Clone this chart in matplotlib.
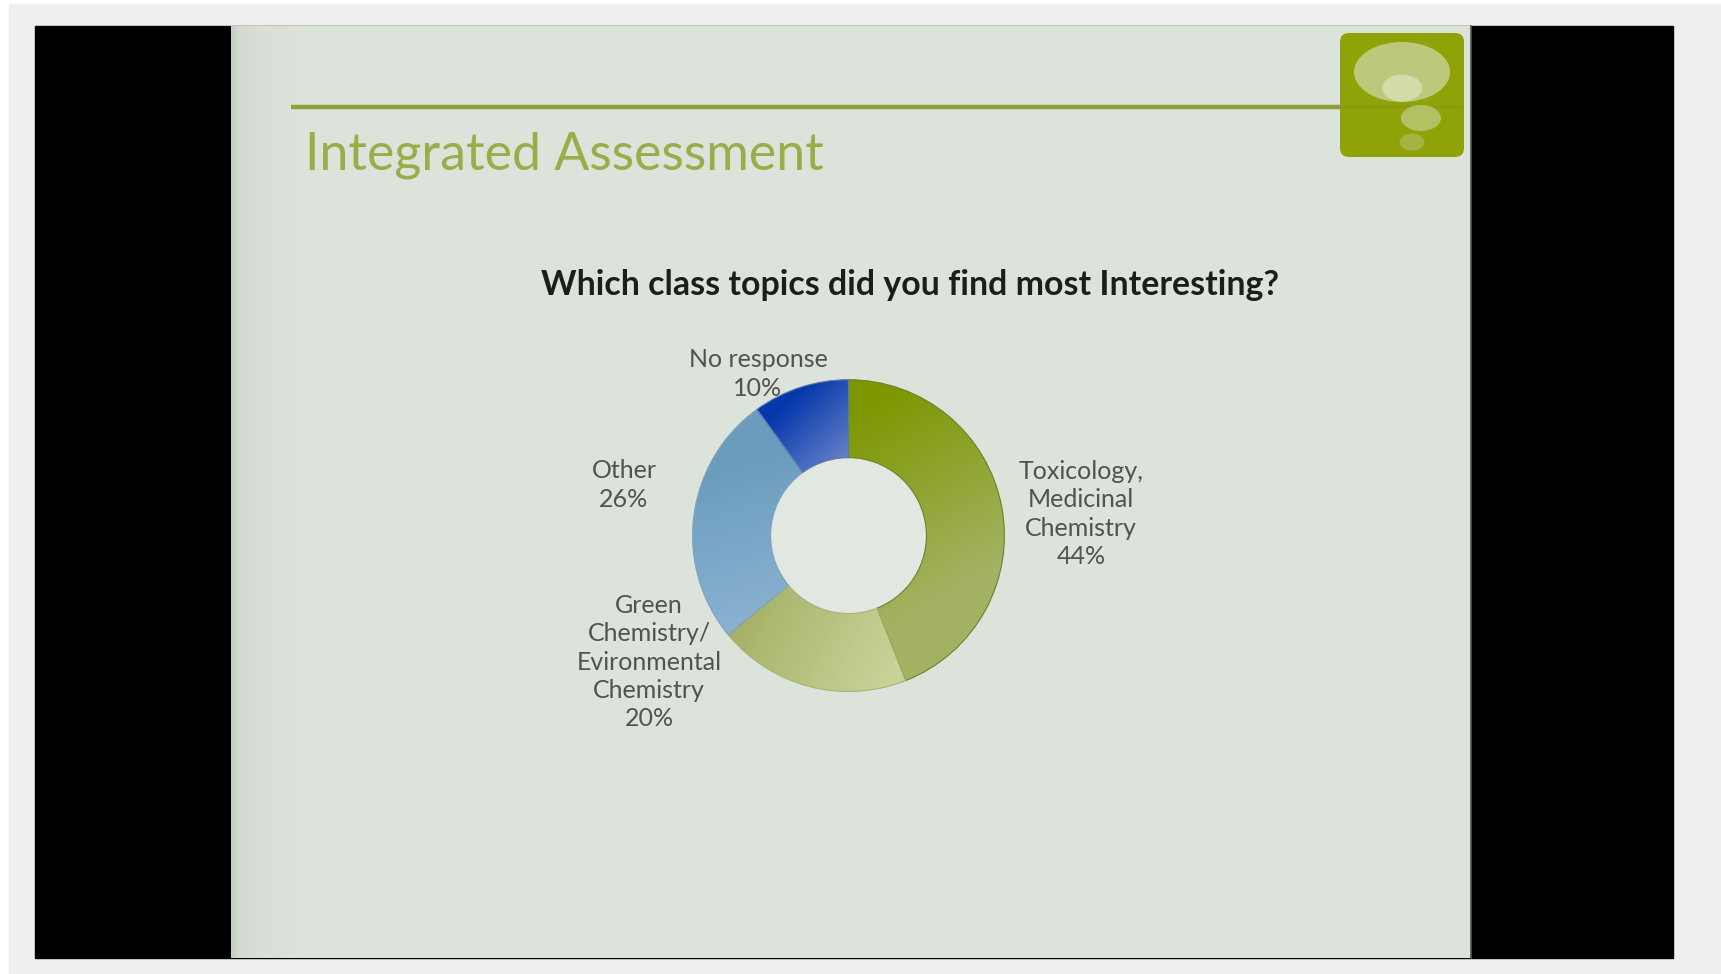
"""Survey slide: donut of the class topics students found most interesting."""

import matplotlib

matplotlib.use("Agg")
import matplotlib.pyplot as plt
import numpy as np
from matplotlib.colors import to_rgb
from matplotlib.patches import Circle, Ellipse, FancyBboxPatch, Rectangle

W, H = 1721, 974

TOPICS = ["Toxicology,\nMedicinal\nChemistry", "Green\nChemistry/\nEvironmental\nChemistry",
          "Other", "No response"]
SHARES = [44, 20, 26, 10]
HEADING = "Integrated Assessment"
QUESTION = "Which class topics did you find most Interesting?"

# label centres in figure pixels, same order as TOPICS
LABEL_XY = [(1081, 514), (649, 662), (624, 485), (758, 374)]

# gradient per wedge: start colour, end colour, start point, end point (pie units)
SHADES = [
    ("#7d9700", "#a3b263", (0.1, 0.85), (0.75, -0.3)),
    ("#a6b166", "#c9d399", (-0.7, -0.5), (0.25, -0.95)),
    ("#6a9cbd", "#8db3d3", (-0.75, 0.5), (-0.45, -0.6)),
    ("#0538ab", "#6c85c8", (-0.4, 0.85), (-0.02, 0.45)),
]
EDGES = ["#6f7f2a", "#a9b370", "#7ba3bb", "#5a74b4"]

CX, CY, R = 848.5, 535.6, 159.0


def slide_background(ax):
    # page margin and the black pillarbox either side of the slide
    ax.add_patch(Rectangle((0, 0), W, H, color="white", zorder=0))
    ax.add_patch(Rectangle((9, 4), W - 9, H - 4, color="#efefef", zorder=0.1))
    ax.add_patch(Rectangle((35, 26), 1638, 932, color="black", zorder=0.2))

    # slide face, a little darker towards its left edge
    xs = np.array([0.0, 8, 30, 50, 70, 1240])
    vals = np.array([0.78, 0.83, 0.85, 0.855, 0.865, 0.865])
    shade = np.interp(np.arange(1240), xs, vals)
    face = np.ones((1, 1240, 3))
    face[..., 0] = shade * 1.0
    face[..., 1] = shade * 1.03
    face[..., 2] = shade * 0.99
    ax.imshow(np.clip(face, 0, 1), extent=(231, 1471, 958, 26), aspect="auto", zorder=0.3)
    ax.plot([1471, 1471], [26, 958], color="#55584f", lw=1.2, zorder=0.4)


def logo(ax):
    ax.plot([291, 1342], [107, 107], color="#8fa137", lw=3.2, solid_capstyle="butt", zorder=1)
    ax.add_patch(FancyBboxPatch((1349, 42), 106, 106, boxstyle="round,pad=9,rounding_size=9",
                                fc="#8fa208", ec="none", zorder=1.1))
    ax.plot([1342, 1462], [107, 107], color="#8a9b12", lw=1.5, zorder=1.2)
    ax.add_patch(Ellipse((1402, 72), 96, 60, fc="#bcc97c", ec="none", zorder=1.3))
    ax.add_patch(Ellipse((1402, 88), 40, 27, fc="#d3dba8", ec="none", zorder=1.4))
    ax.add_patch(Ellipse((1421, 118), 40, 26, fc="#b2c163", ec="none", zorder=1.3))
    ax.add_patch(Ellipse((1412, 142), 25, 17, fc="#a3b440", ec="none", zorder=1.3))


def shade_wedge(ax, wedge, spec):
    c0, c1, p0, p1 = spec
    xx, yy = np.meshgrid(np.linspace(-1.02, 1.02, 400), np.linspace(1.02, -1.02, 400))
    dx, dy = p1[0] - p0[0], p1[1] - p0[1]
    t = ((xx - p0[0]) * dx + (yy - p0[1]) * dy) / (dx * dx + dy * dy)
    t = np.clip(t, 0, 1)[..., None]
    img = (1 - t) * np.array(to_rgb(c0)) + t * np.array(to_rgb(c1))
    im = ax.imshow(img, extent=(-1.02, 1.02, -1.02, 1.02), zorder=2, interpolation="bilinear")
    im.set_clip_path(wedge)


def main():
    fig = plt.figure(figsize=(W / 100, H / 100), dpi=100)
    ax = fig.add_axes([0, 0, 1, 1])
    ax.set_xlim(0, W)
    ax.set_ylim(H, 0)
    ax.axis("off")

    slide_background(ax)
    ax.set_xlim(0, W)
    ax.set_ylim(H, 0)
    logo(ax)

    ax.text(305, 155, HEADING, family="Lato", fontsize=37.4, color="#9aad48",
            ha="left", va="center", zorder=2)
    ax.text(910, 285, QUESTION, family="Lato", weight="bold", fontsize=24.4, color="#1c1e1c",
            ha="center", va="center", zorder=2)

    for topic, share, (x, y) in zip(TOPICS, SHARES, LABEL_XY):
        ax.text(x, y, f"{topic}\n{share}%", family="Lato", fontsize=18, color="#50534e",
                ha="center", va="center", linespacing=1.27, zorder=2)

    # donut sits in its own axes above the labels
    pie_ax = fig.add_axes([(CX - R) / W, 1 - (CY + R) / H, 2 * R / W, 2 * R / H], zorder=2)
    wedges, _ = pie_ax.pie(SHARES, startangle=90, counterclock=False, radius=1.0,
                           wedgeprops=dict(width=0.5, linewidth=0))
    pie_ax.add_patch(Circle((0, 0), 0.5, fc="#e1e7e1", ec="none", zorder=1))
    for wedge, spec, edge in zip(wedges, SHADES, EDGES):
        shade_wedge(pie_ax, wedge, spec)
        wedge.set_edgecolor(edge)
        wedge.set_linewidth(0.8)
        wedge.set_zorder(3)
        wedge.set_facecolor("none")
    pie_ax.set_xlim(-1.02, 1.02)
    pie_ax.set_ylim(-1.02, 1.02)
    pie_ax.patch.set_alpha(0)
    pie_ax.axis("off")

    fig.savefig("out.png", dpi=100)


if __name__ == "__main__":
    main()
